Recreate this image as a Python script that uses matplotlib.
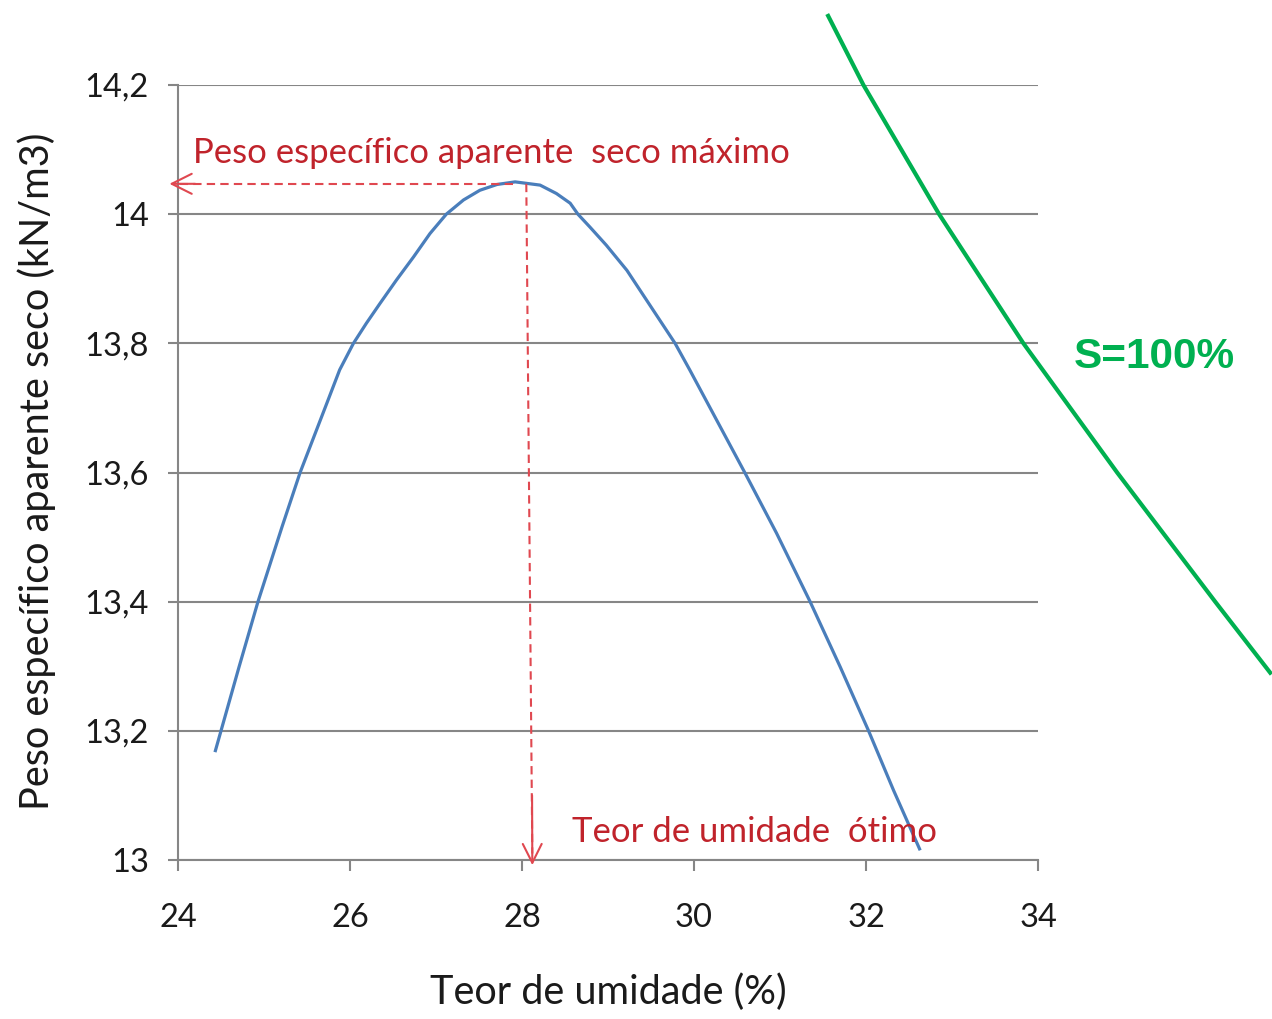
import matplotlib
matplotlib.use("Agg")
import matplotlib.pyplot as plt

# ---- data ----
teor_umidade = [24.43, 24.50, 24.71, 24.93, 25.21, 25.42, 25.73, 25.88, 26.04, 26.19,
                26.35, 26.54, 26.74, 26.93, 27.12, 27.32, 27.51, 27.71, 27.92, 28.21,
                28.40, 28.56, 28.65, 28.79, 28.98, 29.22, 29.78, 29.95, 30.59, 30.96,
                31.35, 31.70, 32.03, 32.32, 32.63]
peso_especifico = [13.167, 13.2, 13.299, 13.4, 13.516, 13.6, 13.707, 13.759, 13.8, 13.831,
                   13.862, 13.898, 13.934, 13.970, 14.0, 14.022, 14.037, 14.046, 14.050, 14.045,
                   14.032, 14.017, 14.0, 13.980, 13.952, 13.913, 13.8, 13.759, 13.6, 13.506,
                   13.4, 13.299, 13.2, 13.108, 13.015]

sat_x = [31.56, 31.97, 32.85, 33.83, 34.92, 36.06, 36.70]
sat_y = [14.307, 14.2, 14.0, 13.8, 13.6, 13.4, 13.29]

x_ticks = [24, 26, 28, 30, 32, 34]
y_ticks = [13.0, 13.2, 13.4, 13.6, 13.8, 14.0, 14.2]
y_tick_labels = ["13", "13,2", "13,4", "13,6", "13,8", "14", "14,2"]

gamma_max = 14.047
w_opt_top = 28.05
w_opt_bottom = 28.12

FONT = ["Lato", "DejaVu Sans"]
RED = "#c0232b"
RED_DASH = "#e04850"
BLUE = "#4a7ebb"
GREEN = "#00b050"
GRID = "#868686"
TXT = "#1a1a1a"

fig = plt.figure(figsize=(12.72, 10.19), dpi=100)
ax = fig.add_axes([178/1272, 1-860/1019, (1038-178)/1272, (860-85)/1019])

ax.set_xlim(24, 34)
ax.set_ylim(13, 14.2)
ax.set_xticks(x_ticks)
ax.set_yticks(y_ticks)
ax.set_yticklabels(y_tick_labels)
ax.set_xticklabels([str(v) for v in x_ticks])

ax.grid(axis="y", color=GRID, linewidth=1.5)
ax.set_axisbelow(True)
for s in ["top", "right"]:
    ax.spines[s].set_visible(False)
for s in ["left", "bottom"]:
    ax.spines[s].set_color(GRID)
    ax.spines[s].set_linewidth(1.5)
ax.tick_params(axis="y", direction="out", length=7, width=1.5, color=GRID,
               pad=14, labelsize=23.5, labelcolor=TXT)
ax.tick_params(axis="x", direction="out", length=8, width=1.5, color=GRID,
               pad=23, labelsize=23.5, labelcolor=TXT)
for lab in ax.get_xticklabels() + ax.get_yticklabels():
    lab.set_family(FONT)

# compaction curve
ax.plot(teor_umidade, peso_especifico, color=BLUE, linewidth=2.3,
        solid_joinstyle="round", solid_capstyle="butt")

# saturation line (drawn outside the axes)
ax.plot(sat_x, sat_y, color=GREEN, linewidth=3.0, clip_on=False, solid_joinstyle="round")
ax.text(34.41, 13.762, "S=100%", color=GREEN, fontsize=30.5, fontweight="bold",
        family=["Liberation Sans", "DejaVu Sans"], ha="left", va="baseline")

# red dashed guides
ax.plot([27.9, 23.95], [gamma_max, gamma_max], color=RED_DASH, linewidth=1.5,
        linestyle=(0, (4, 2.5)), clip_on=False)
ax.plot([w_opt_top, w_opt_bottom], [gamma_max, 13.01], color=RED_DASH, linewidth=1.5,
        linestyle=(0, (4, 2.5)), clip_on=False)
ax.annotate("", xy=(23.9, gamma_max), xytext=(24.2, gamma_max),
            arrowprops=dict(arrowstyle="->", color=RED_DASH, lw=1.5, mutation_scale=36,
                            shrinkA=0, shrinkB=0), annotation_clip=False)
ax.annotate("", xy=(w_opt_bottom, 12.992), xytext=(w_opt_bottom - 0.003, 13.1),
            arrowprops=dict(arrowstyle="->", color=RED_DASH, lw=1.5, mutation_scale=34,
                            shrinkA=0, shrinkB=0), annotation_clip=False)

ax.text(24.17, 14.079, "Peso específico aparente  seco máximo", color=RED, fontsize=25,
        family=FONT, ha="left", va="baseline")
ax.text(28.58, 13.028, "Teor de umidade  ótimo", color=RED, fontsize=25,
        family=FONT, ha="left", va="baseline")

fig.text(37/1272, 1-471/1019, "Peso específico aparente seco (kN/m3)", rotation=90,
         ha="center", va="center", fontsize=28.5, family=FONT, color=TXT)
fig.text(608/1272, 1-992/1019, "Teor de umidade (%)", ha="center", va="center",
         fontsize=28.5, family=FONT, color=TXT)

fig.savefig("out.png", dpi=100)
